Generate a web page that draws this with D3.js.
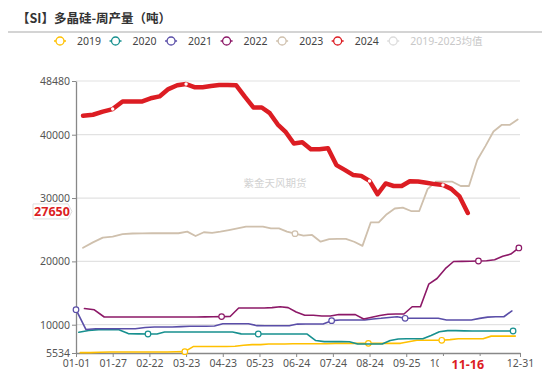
<!DOCTYPE html>
<html>
<head>
<meta charset="utf-8">
<script src="https://cdn.jsdelivr.net/npm/d3@7/dist/d3.min.js"></script>
<style>
  body { margin: 0; background: #fff; }
  svg { display: block; font-family: "Noto Sans", "Noto Sans CJK SC", sans-serif; }
</style>
</head>
<body>
<div id="chart"></div>
<script>
// tick labels (MM-DD) and y ticks
const xTickLabels = ['01-01', '01-27', '02-22', '03-23', '04-23', '05-23', '06-24',
    '07-24', '08-24', '09-25', '10-26', '11-26', '12-31'];
const yTicks = [5534, 10000, 20000, 30000, 40000, 48480];

const years = ['2019', '2020', '2021', '2022', '2023', '2024'];
// first weekly date of each year
const startDates = ['2019-01-04', '2020-01-03', '2021-01-01', '2022-01-07', '2023-01-06', '2024-01-06'];
const colors = ['#ffc000', '#17908f', '#5a4ea8', '#8c1867', '#cfc0ad', '#dc1d23'];

const v2019 = [5590, 5600, 5650, 5700, 5700, 5700, 5700, 5700, 5700, 5700,
    5720, 5750, 6550, 6550, 6550, 6550, 6550, 6600, 6750, 6850,
    6850, 6950, 6950, 6950, 7000, 7000, 7000, 7000, 7000, 7050,
    7050, 7060, 7060, 7060, 7060, 7060, 7060, 7060, 7300, 7540,
    7540, 7540, 7540, 7650, 7790, 7790, 7790, 7790, 8200, 8200,
    8200, 8200];
const v2020 = [8800, 9100, 9230, 9230, 9230, 8600, 8550, 8530, 8530, 8850,
    8850, 8850, 8850, 8850, 8850, 8850, 8850, 8850, 8550, 8530,
    8530, 8530, 8530, 8530, 8530, 8530, 8530, 7500, 7330, 7330,
    7330, 7320, 6950, 6950, 6950, 6950, 7500, 7750, 7790, 7790,
    7790, 8300, 8900, 9060, 9060, 9030, 9010, 9010, 9010, 9010,
    9010, 9010];
const v2021 = [12370, 9250, 9370, 9370, 9370, 9370, 9370, 9550, 9640, 9640,
    9640, 9700, 9750, 9750, 9750, 9800, 10150, 10160, 10160, 10160,
    9850, 9840, 9840, 9840, 9840, 10100, 10110, 10110, 10110, 10640,
    10750, 10750, 10750, 10750, 10900, 11010, 11150, 11260, 11010, 11010,
    11010, 11010, 11010, 10750, 10750, 10750, 10750, 11000, 11200, 11260,
    11260, 12170];
const v2022 = [12550, 12350, 11220, 11220, 11220, 11220, 11220, 11220, 11220, 11220,
    11220, 11220, 11220, 11230, 11250, 11280, 11300, 12640, 12640, 12640,
    12640, 12700, 12840, 12700, 12000, 11490, 11500, 11380, 11380, 11600,
    11600, 11600, 10900, 11170, 11450, 11650, 11690, 11690, 12840, 12840,
    16400, 17300, 18850, 19980, 20000, 20030, 20060, 20100, 20250, 20800,
    21150, 22120];
const v2023 = [22150, 23000, 23750, 23900, 24300, 24400, 24420, 24440, 24440, 24440,
    24440, 24700, 24000, 24600, 24500, 24700, 24950, 25200, 25480, 25480,
    25480, 25200, 25200, 24700, 24380, 24060, 24170, 23110, 23500, 23550,
    23550, 23100, 22450, 26150, 26150, 27450, 28350, 28480, 27950, 27950,
    31400, 32580, 32580, 32580, 31900, 31900, 36000, 38200, 40500, 41540,
    41540, 42400];
const v2024 = [43000, 43150, 43650, 44050, 45250, 45250, 45250, 45800, 46050, 47200,
    47800, 48000, 47500, 47500, 47700, 47850, 47850, 47800, 46000, 44300,
    44300, 43400, 41600, 40400, 38600, 38800, 37700, 37700, 37850, 35200,
    34450, 33650, 33500, 32700, 30600, 32300, 31900, 31900, 32650, 32600,
    32400, 32200, 32050, 31450, 30250, 27650];
const values = [v2019, v2020, v2021, v2022, v2023, v2024];

// points that show a symbol
const m2019 = ['03-22', '08-23', '10-25'];
const m2020 = ['02-21', '05-22', '12-25'];
const m2021 = ['01-01', '07-23', '09-24'];
const m2022 = ['04-22', '11-25', '12-30'];
const m2023 = ['06-23'];
const m2024 = ['01-27', '03-23', '08-24', '10-26'];
const markers = [m2019, m2020, m2021, m2022, m2023, m2024];

const legendNames = ['2019', '2020', '2021', '2022', '2023', '2024', '2019-2023均值'];

const width = 550, height = 373;
const plotLeft = 76, plotRight = 520, plotTop = 81, plotBottom = 353;
const lastGap = 1.1;

const monthStart = [0, 31, 59, 90, 120, 151, 181, 212, 243, 273, 304, 334];
const dayOf = (s) => monthStart[+s.slice(0, 2) - 1] + (+s.slice(3, 5)) - 1;
const parse = d3.utcParse('%Y-%m-%d');
const fmt = d3.utcFormat('%m-%d');

const series = years.map((name, k) => {
    const start = parse(startDates[k]);
    const points = values[k].map((v, i) => {
        const md = fmt(d3.utcDay.offset(start, 7 * i));
        return { md, day: dayOf(md), v };
    });
    return { name, color: colors[k], points, marks: markers[k] };
});

const latestSeries = series[series.length - 1];
const latest = latestSeries.points[latestSeries.points.length - 1];

const svg = d3.select('#chart').append('svg')
    .attr('width', width)
    .attr('height', height);

// title
svg.append('text')
    .attr('x', 17)
    .attr('y', 23)
    .attr('font-family', '"Noto Sans CJK SC", sans-serif')
    .attr('font-size', 12.5)
    .attr('font-weight', 'bold')
    .attr('fill', '#333')
    .text('【SI】多晶硅-周产量（吨）');

svg.append('line')
    .attr('x1', 8).attr('x2', 542)
    .attr('y1', 32).attr('y2', 32)
    .attr('stroke', '#d4d4d4')
    .attr('stroke-width', 2);

// legend
const legend = svg.append('g').attr('class', 'legend');
let cx = 60;
legendNames.forEach((name, i) => {
    const off = i >= colors.length;
    const c = off ? '#dcdcdc' : colors[i];
    const g = legend.append('g');
    g.append('line')
        .attr('x1', cx - 6).attr('x2', cx + 6)
        .attr('y1', 41).attr('y2', 41)
        .attr('stroke', c).attr('stroke-width', 1.5);
    g.append('circle')
        .attr('cx', cx).attr('cy', 41).attr('r', 4)
        .attr('fill', '#fff').attr('stroke', c).attr('stroke-width', 1.3);
    const t = g.append('text')
        .attr('x', cx + 17)
        .attr('y', 44.5)
        .attr('font-size', 10.5)
        .attr('fill', off ? '#c8c8c8' : '#444')
        .text(name);
    cx += 17 + t.node().getComputedTextLength() + 14.5;
});

// scales
const step = (plotRight - plotLeft) / (xTickLabels.length - 2 + lastGap);
const xRange = xTickLabels.map((d, i) => i < xTickLabels.length - 1 ? plotLeft + i * step : plotRight);
const x = d3.scaleLinear().domain(xTickLabels.map(dayOf)).range(xRange);
const y = d3.scaleLinear().domain([yTicks[0], yTicks[yTicks.length - 1]]).range([plotBottom, plotTop]);

// grid
svg.append('g')
    .selectAll('line')
    .data(yTicks.slice(1))
    .join('line')
    .attr('x1', plotLeft).attr('x2', plotRight)
    .attr('y1', (d) => y(d)).attr('y2', (d) => y(d))
    .attr('stroke', '#e2e2e2')
    .attr('stroke-width', 1.2);

// watermark
svg.append('text')
    .attr('x', 275)
    .attr('y', 187)
    .attr('text-anchor', 'middle')
    .attr('font-family', '"Noto Sans CJK SC", sans-serif')
    .attr('font-size', 10.5)
    .attr('fill', '#d2d2d2')
    .text('紫金天风期货');

// axes; a tick label fully under the latest-date label is not drawn
const lx = x(latest.day);
const xAxis = svg.append('g')
    .attr('transform', `translate(0,${plotBottom})`)
    .call(d3.axisBottom(x)
        .tickValues(xTickLabels.map(dayOf))
        .tickFormat((d, i) => Math.abs(x(d) - lx) < 15 ? '' : xTickLabels[i])
        .tickSizeInner(4)
        .tickSizeOuter(0)
        .tickPadding(3));
xAxis.select('.domain').attr('stroke', '#888').attr('stroke-width', 1.3);
xAxis.selectAll('.tick line').attr('stroke', '#888');
xAxis.selectAll('.tick text')
    .attr('font-size', 10.5)
    .attr('font-family', '"Noto Sans", sans-serif')
    .attr('fill', '#555');

const yAxis = svg.append('g')
    .attr('transform', `translate(${plotLeft},0)`)
    .call(d3.axisLeft(y)
        .tickValues(yTicks)
        .tickFormat(d3.format('d'))
        .tickSizeInner(4)
        .tickSizeOuter(0)
        .tickPadding(2));
yAxis.select('.domain').attr('stroke', '#888').attr('stroke-width', 1.3);
yAxis.selectAll('.tick line').attr('stroke', '#888');
yAxis.selectAll('.tick text')
    .attr('font-size', 10.5)
    .attr('font-family', '"Noto Sans", sans-serif')
    .attr('fill', '#555');

// lines
const line = d3.line()
    .x((d) => x(d.day))
    .y((d) => y(d.v));

const lines = svg.append('g');
series.forEach((s, k) => {
    const last = k === series.length - 1;
    lines.append('path')
        .datum(s.points)
        .attr('fill', 'none')
        .attr('stroke', s.color)
        .attr('stroke-width', last ? 4.5 : (k === 4 ? 1.8 : 1.6))
        .attr('stroke-linejoin', 'round')
        .attr('stroke-linecap', 'round')
        .attr('d', line);

    lines.append('g')
        .selectAll('circle')
        .data(s.points.filter((p) => s.marks.includes(p.md)))
        .join('circle')
        .attr('cx', (d) => x(d.day))
        .attr('cy', (d) => y(d.v))
        .attr('r', last ? 1.7 : 2.8)
        .attr('fill', '#fff')
        .attr('stroke', last ? 'none' : s.color)
        .attr('stroke-width', 1.2);
});

// latest 2024 point labels
const ly = y(latest.v) - 1.5;
svg.append('path')
    .attr('d', `M33,${ly - 7.5}H68L72,${ly}L68,${ly + 7.5}H33Z`)
    .attr('fill', '#fff')
    .attr('stroke', '#dedede')
    .attr('stroke-width', 1);
svg.append('text')
    .attr('x', 52)
    .attr('y', ly + 4.5)
    .attr('text-anchor', 'middle')
    .attr('font-size', 12.5)
    .attr('font-weight', 'bold')
    .attr('fill', '#dc1d23')
    .text(latest.v);

svg.append('rect')
    .attr('x', lx - 29).attr('y', 356)
    .attr('width', 58).attr('height', 17)
    .attr('fill', '#fff');
svg.append('text')
    .attr('x', lx)
    .attr('y', 369)
    .attr('text-anchor', 'middle')
    .attr('font-size', 12.5)
    .attr('font-weight', 'bold')
    .attr('fill', '#dc1d23')
    .text(latest.md);
</script>
</body>
</html>
